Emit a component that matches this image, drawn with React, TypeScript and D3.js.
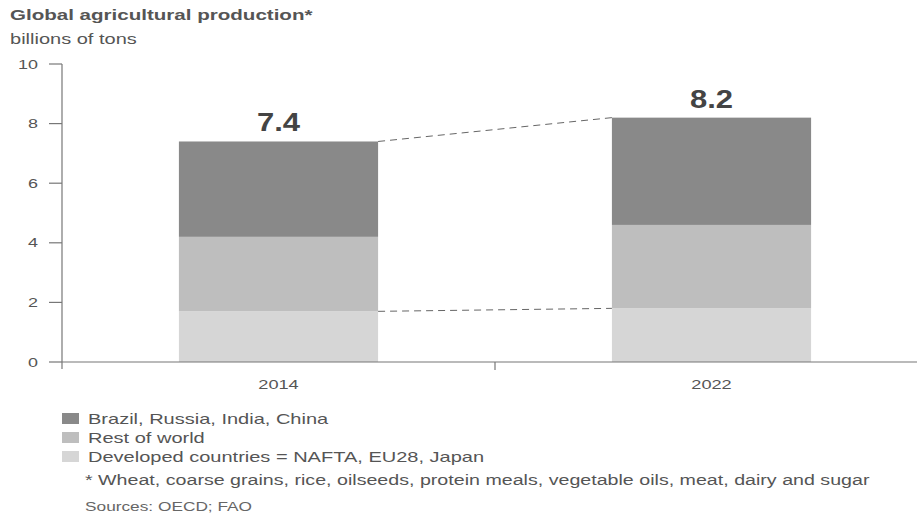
import React from "react";
import * as d3 from "d3";

const years = ["2014", "2022"];
const developed = [1.7, 1.8];
const restOfWorld = [2.5, 2.8];
const bric = [3.2, 3.6];
const totals = ["7.4", "8.2"];
const yTicks = [0, 2, 4, 6, 8, 10];
const seriesNames = ["Developed countries = NAFTA, EU28, Japan", "Rest of world", "Brazil, Russia, India, China"];
const legendOrder = ["Brazil, Russia, India, China", "Rest of world", "Developed countries = NAFTA, EU28, Japan"];

const W = 917;
const H = 515;
const colors: Record<string, string> = {
  "Brazil, Russia, India, China": "#898989",
  "Rest of world": "#bebebe",
  "Developed countries = NAFTA, EU28, Japan": "#d6d6d6",
};

function T(props: { x: number; y: number; sx: number; children: any; [k: string]: any }) {
  const { x, y, sx, children, ...rest } = props;
  return (
    <text transform={`translate(${x},${y}) scale(${sx},1)`} {...rest}>
      {children}
    </text>
  );
}

export default function App() {
  const font = "'Liberation Sans', Arial, Helvetica, sans-serif";
  const x = d3.scaleBand<string>().domain(years).range([62, 928]).paddingInner(0.54).paddingOuter(0.27);
  const y = d3.scaleLinear().domain([0, 10]).range([362, 64]);
  const rows = years.map((yr, i) => ({ year: yr, [seriesNames[0]]: developed[i], [seriesNames[1]]: restOfWorld[i], [seriesNames[2]]: bric[i] }));
  const stack = d3.stack<any>().keys(seriesNames)(rows);
  const bw = x.bandwidth();
  const step = x.step();

  const devTop = stack[0];
  const allTop = stack[2];

  return (
    <svg width={W} height={H} style={{ position: "absolute", left: 0, top: 0, fontFamily: font }}>
      <rect width={W} height={H} fill="#fff" />
      <T x={10} y={20} sx={1.37} fontSize={15} fontWeight="bold" fill="#555">Global agricultural production*</T>
      <T x={10} y={44} sx={1.38} fontSize={14.5} fill="#555">billions of tons</T>

      {stack.map((s) =>
        s.map((d, i) => (
          <rect key={s.key + i} x={x(years[i])!} width={bw} y={y(d[1])} height={y(d[0]) - y(d[1])} fill={colors[s.key]} />
        ))
      )}

      <line x1={x(years[0])! + bw} y1={y(allTop[0][1])} x2={x(years[1])!} y2={y(allTop[1][1])} stroke="#666" strokeWidth={1} strokeDasharray="7,5" />
      <line x1={x(years[0])! + bw} y1={y(devTop[0][1])} x2={x(years[1])!} y2={y(devTop[1][1])} stroke="#666" strokeWidth={1} strokeDasharray="7,5" />

      {years.map((yr, i) => (
        <T key={"t" + yr} x={x(yr)! + bw / 2} y={y(allTop[i][1]) - 10} sx={1.24} textAnchor="middle" fontSize={25} fontWeight="bold" fill="#444">{totals[i]}</T>
      ))}

      <line x1={62} x2={62} y1={y(10)} y2={369} stroke="#777" strokeWidth={1.2} />
      {yTicks.map((t) => (
        <g key={"y" + t}>
          <line x1={49} x2={62} y1={y(t)} y2={y(t)} stroke="#777" strokeWidth={1.2} />
          <T x={38} y={y(t) + 4.5} sx={1.38} textAnchor="end" fontSize={13} fill="#555">{t}</T>
        </g>
      ))}

      <line x1={62} x2={W} y1={362} y2={362} stroke="#777" strokeWidth={1.2} />
      <line x1={x(years[0])! + bw + (step - bw) / 2} x2={x(years[0])! + bw + (step - bw) / 2} y1={362} y2={370} stroke="#777" strokeWidth={1.2} />
      {years.map((yr) => (
        <T key={"x" + yr} x={x(yr)! + bw / 2} y={389} sx={1.4} textAnchor="middle" fontSize={13} fill="#555">{yr}</T>
      ))}

      {legendOrder.map((name, i) => (
        <g key={name}>
          <rect x={62} y={413 + i * 19} width={17} height={11} fill={colors[name]} />
          <T x={88} y={424 + i * 19} sx={1.38} fontSize={14.5} fill="#555">{name}</T>
        </g>
      ))}
      <T x={85} y={485} sx={1.355} fontSize={14.5} fill="#555">* Wheat, coarse grains, rice, oilseeds, protein meals, vegetable oils, meat, dairy and sugar</T>
      <T x={85} y={511} sx={1.28} fontSize={13.5} fill="#666">Sources: OECD; FAO</T>
    </svg>
  );
}
